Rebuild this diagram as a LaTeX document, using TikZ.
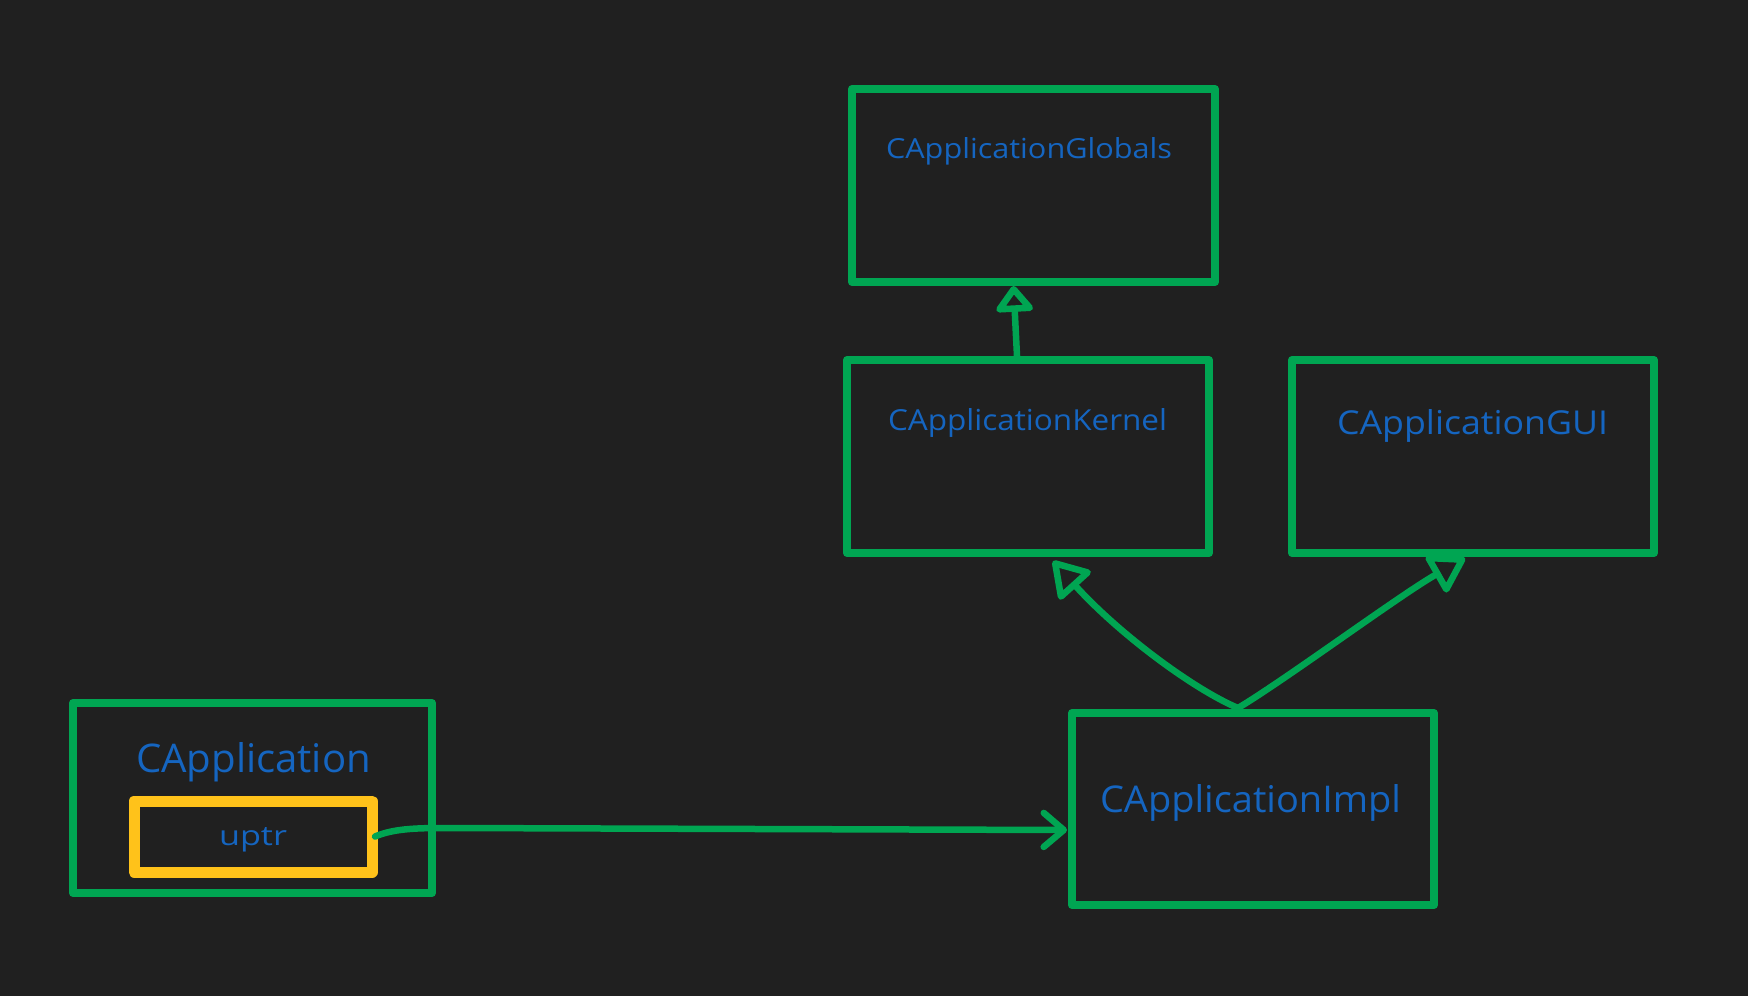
\documentclass[tikz,border=0pt]{standalone}
\usepackage{graphicx}
\usepackage{fontspec}
\setmainfont{Open Sans}
\usetikzlibrary{arrows.meta,calc}
\definecolor{bgc}{HTML}{202020}
\definecolor{grn}{HTML}{00A552}
\definecolor{ylw}{HTML}{FFC21A}
\definecolor{txtblue}{HTML}{1565C0}
\newcommand{\fitlbl}[3]{\resizebox{#1pt}{#2pt}{\fontsize{20}{24}\selectfont #3}}
\tikzset{
  gbox/.style={draw=grn, line width=8pt, line join=round, line cap=round, rectangle, inner sep=0pt, outer sep=0pt},
  ybox/.style={draw=ylw, line width=11pt, line join=round, line cap=round, rectangle, inner sep=0pt, outer sep=0pt},
  lbl/.style={text=txtblue, inner sep=0pt, outer sep=0pt, anchor=base west},
  conn/.style={draw=grn, line width=6.5pt, line cap=round, line join=round},
  inherit/.style={conn, -{Triangle[open, length=38pt, width=46pt, line join=round]}},
  inheritsmall/.style={conn, -{Triangle[open, length=28pt, width=42pt, line join=round]}},
  assoc/.style={conn, -{Straight Barb[length=20pt, width=34pt, line cap=round, line join=round]}}
}
\begin{document}
\begin{tikzpicture}[x=1pt,y=-1pt]
\fill[bgc] (0,0) rectangle (1748,996);
\useasboundingbox (0,0) rectangle (1748,996);
% boxes
\node[gbox, minimum width=363pt, minimum height=193pt] (glob) at (1033.5,185.5) {};
\node[gbox, minimum width=362pt, minimum height=193pt] (kern) at (1028,456.5) {};
\node[gbox, minimum width=362pt, minimum height=193pt] (gui) at (1473,456.5) {};
\node[gbox, minimum width=362pt, minimum height=192pt] (impl) at (1253,809) {};
\node[gbox, minimum width=359pt, minimum height=190pt] (app) at (252.5,798) {};
\node[ybox, minimum width=238pt, minimum height=71pt] (uptr) at (253,836.5) {};
% labels
\node[lbl] (globT) at (886,158) {\fitlbl{286}{21}{CApplicationGlobals}};
\node[lbl] (kernT) at (888,430) {\fitlbl{279}{22}{CApplicationKernel}};
\node[lbl] (guiT) at (1337,434) {\fitlbl{271}{25}{CApplicationGUI}};
\node[lbl] (appT) at (136,772) {\fitlbl{235}{30}{CApplication}};
\node[lbl] (uptrT) at (219,845) {\fitlbl{68}{18}{uptr}};
\node[lbl] (implT) at (1100,812) {\fitlbl{301}{28}{CApplicationImpl}};
% connectors
\draw[inheritsmall] ($(kern.north)+(-11,-4)$) -- ($(glob.south)+(-20,4)$);
\draw[inherit] ($(impl.north)+(-15,-5)$) .. controls (1195,690) and (1120,635) .. ($(kern.south)+(25,8)$);
\draw[inherit] ($(impl.north)+(-15,-5)$) .. controls (1285,680) and (1400,595) .. ($(gui.south)+(-8,5)$);
\draw[assoc] ($(uptr.east)+(3,0)$) .. controls (395,828) and (420,828) .. (450,828) -- ($(impl.west)+(-5,21)$);
\end{tikzpicture}
\end{document}
